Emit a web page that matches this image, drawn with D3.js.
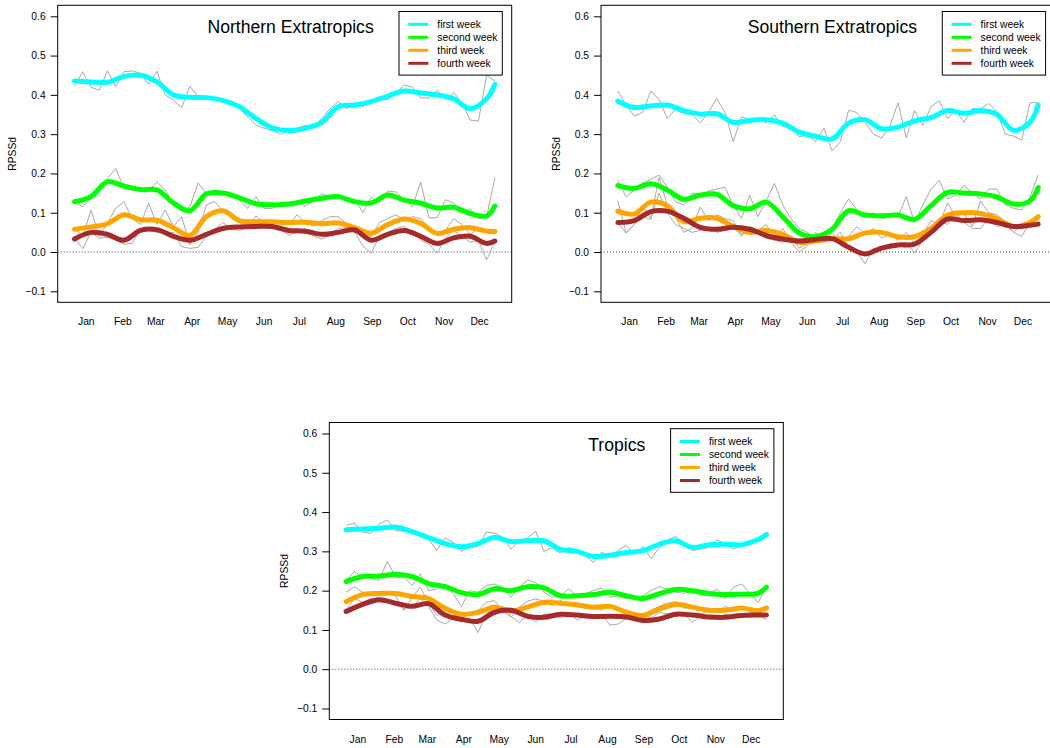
<!DOCTYPE html>
<html>
<head>
<meta charset="utf-8">
<script src="https://cdn.jsdelivr.net/npm/d3@7"></script>
<style>
body { margin: 0; background: #fff; }
svg { display: block; font-family: "Liberation Sans", Arial, sans-serif; }
</style>
</head>
<body>
<svg id="chart" width="1050" height="748"></svg>
<script>
// month labels, placed at mid-month (day of year)
var months = ['Jan','Feb','Mar','Apr','May','Jun','Jul','Aug','Sep','Oct','Nov','Dec'];
var monthDays = [15,46,74,105,135,166,196,227,258,288,319,349];
var yTicks = [-0.1,0.0,0.1,0.2,0.3,0.4,0.5,0.6];

// day of year of every weekly value
var weekDays = [5,12,19,26,33,40,47,54,61,68,75,82,89,96,103,110,117,124,131,138,145,152,159,166,173,180,
                187,194,201,208,215,222,229,236,243,250,257,264,271,278,285,292,299,306,313,320,327,334,341,348,355,362];
// day of year of the smoothed values
var smoothDays = [5,19,33,47,61,75,89,103,117,131,145,159,173,187,201,215,229,243,257,271,285,299,313,327,341,355,362];

var leadNames = ['first week','second week','third week','fourth week'];
var leadColors = ['#00ffff','#00ff00','#ffa500','#a52a2a'];

// ---- Northern Extratropics ----
var nhRaw1 = [0.422,0.459,0.419,0.412,0.461,0.421,0.459,0.461,0.455,0.427,0.46,0.40,0.387,0.368,0.422,0.395,0.393,0.392,0.387,0.378,0.366,0.344,0.323,0.315,0.309,0.30,
              0.308,0.315,0.322,0.318,0.34,0.365,0.383,0.365,0.378,0.37,0.385,0.395,0.387,0.405,0.425,0.42,0.392,0.392,0.412,0.388,0.406,0.38,0.336,0.333,0.45,0.435];
var nhRaw2 = [0.128,0.115,0.137,0.165,0.187,0.213,0.162,0.158,0.158,0.156,0.179,0.158,0.124,0.103,0.115,0.176,0.149,0.158,0.15,0.145,0.132,0.111,0.141,0.111,0.111,0.125,
              0.12,0.125,0.117,0.13,0.148,0.14,0.148,0.13,0.135,0.10,0.14,0.125,0.155,0.153,0.133,0.115,0.178,0.087,0.087,0.133,0.125,0.098,0.11,0.085,0.09,0.189];
var nhRaw3 = [0.06,0.04,0.107,0.04,0.075,0.111,0.128,0.085,0.07,0.124,0.07,0.107,0.065,0.09,0.018,0.05,0.12,0.128,0.105,0.09,0.075,0.06,0.092,0.075,0.08,0.07,
              0.07,0.095,0.075,0.066,0.08,0.09,0.09,0.072,0.05,0.045,0.04,0.075,0.085,0.095,0.08,0.09,0.085,0.06,0.05,0.055,0.085,0.07,0.045,0.06,0.05,0.055];
var nhRaw4 = [0.035,0.009,0.05,0.035,0.038,0.03,0.02,0.022,0.06,0.055,0.05,0.045,0.05,0.014,0.009,0.012,0.04,0.058,0.075,0.06,0.055,0.062,0.06,0.07,0.068,0.058,
              0.043,0.05,0.06,0.04,0.033,0.045,0.06,0.062,0.05,0.015,-0.003,0.04,0.05,0.06,0.065,0.05,0.03,0.02,-0.003,0.035,0.055,0.04,0.025,0.03,-0.02,0.025];
var nhSmooth1 = [0.435,0.433,0.432,0.447,0.45,0.433,0.40,0.394,0.393,0.386,0.37,0.34,0.316,0.309,0.315,0.33,0.37,0.374,0.383,0.397,0.41,0.405,0.40,0.39,0.365,0.39,0.427];
var nhSmooth2 = [0.128,0.141,0.179,0.168,0.159,0.158,0.125,0.105,0.148,0.15,0.138,0.123,0.12,0.122,0.13,0.137,0.141,0.128,0.125,0.145,0.132,0.124,0.112,0.114,0.098,0.092,0.117];
var nhSmooth3 = [0.058,0.064,0.072,0.095,0.082,0.081,0.062,0.042,0.09,0.105,0.08,0.077,0.077,0.075,0.076,0.072,0.074,0.062,0.048,0.07,0.084,0.073,0.047,0.058,0.062,0.053,0.052];
var nhSmooth4 = [0.033,0.05,0.045,0.03,0.055,0.057,0.04,0.03,0.045,0.06,0.064,0.065,0.065,0.055,0.053,0.045,0.05,0.056,0.03,0.045,0.055,0.04,0.022,0.036,0.04,0.022,0.028];

// ---- Southern Extratropics ----
var shRaw1 = [0.41,0.375,0.346,0.355,0.41,0.388,0.34,0.363,0.352,0.35,0.329,0.355,0.391,0.355,0.281,0.344,0.338,0.34,0.329,0.349,0.319,0.323,0.293,0.298,0.281,0.315,
              0.257,0.281,0.361,0.355,0.33,0.30,0.29,0.32,0.38,0.29,0.36,0.322,0.37,0.385,0.34,0.36,0.33,0.365,0.365,0.378,0.358,0.30,0.295,0.285,0.38,0.38];
var shRaw2 = [0.183,0.14,0.158,0.175,0.185,0.196,0.165,0.128,0.12,0.15,0.145,0.155,0.16,0.165,0.12,0.085,0.145,0.09,0.13,0.175,0.12,0.085,0.06,0.05,0.035,0.045,
              0.06,0.1,0.135,0.108,0.088,0.1,0.085,0.09,0.09,0.141,0.075,0.12,0.16,0.183,0.135,0.145,0.17,0.15,0.135,0.16,0.16,0.12,0.111,0.107,0.14,0.196];
var shRaw3 = [0.13,0.05,0.07,0.12,0.085,0.19,0.12,0.09,0.05,0.06,0.115,0.08,0.095,0.085,0.08,0.04,0.065,0.055,0.07,0.035,0.06,0.025,0.0,0.015,0.05,0.03,
              0.048,0.025,0.04,0.065,0.045,0.06,0.035,0.045,0.03,0.05,0.02,0.045,0.08,0.07,0.125,0.09,0.1,0.065,0.13,0.1,0.095,0.075,0.05,0.07,0.065,0.095];
var shRaw4 = [0.075,0.048,0.07,0.09,0.083,0.15,0.1,0.07,0.06,0.05,0.055,0.065,0.05,0.055,0.06,0.045,0.06,0.05,0.035,0.03,0.025,0.04,0.01,0.02,0.04,0.035,
              0.03,0.05,0.01,0.0,-0.03,0.01,0.005,0.02,0.02,0.025,-0.003,0.03,0.065,0.08,0.07,0.1,0.075,0.06,0.06,0.085,0.065,0.07,0.05,0.04,0.075,0.07];
var shSmooth1 = [0.384,0.368,0.372,0.374,0.36,0.351,0.352,0.33,0.335,0.337,0.328,0.305,0.295,0.288,0.328,0.337,0.314,0.318,0.334,0.342,0.36,0.353,0.36,0.35,0.31,0.33,0.374];
var shSmooth2 = [0.169,0.162,0.174,0.158,0.134,0.145,0.147,0.118,0.11,0.127,0.09,0.049,0.039,0.058,0.105,0.094,0.092,0.094,0.083,0.118,0.152,0.15,0.148,0.14,0.122,0.13,0.164];
var shSmooth3 = [0.104,0.097,0.127,0.118,0.077,0.086,0.086,0.065,0.05,0.055,0.045,0.025,0.028,0.034,0.034,0.048,0.05,0.039,0.039,0.06,0.094,0.1,0.098,0.085,0.065,0.075,0.09];
var shSmooth4 = [0.075,0.08,0.103,0.104,0.086,0.063,0.058,0.063,0.058,0.042,0.033,0.028,0.032,0.034,0.012,-0.005,0.01,0.018,0.02,0.05,0.084,0.08,0.082,0.075,0.065,0.068,0.071];

// ---- Tropics ----
var trRaw1 = [0.366,0.372,0.349,0.346,0.37,0.38,0.353,0.351,0.355,0.344,0.332,0.302,0.334,0.323,0.30,0.31,0.312,0.349,0.346,0.336,0.306,0.327,0.334,0.351,0.30,0.309,
              0.295,0.31,0.302,0.289,0.272,0.298,0.285,0.302,0.315,0.292,0.313,0.281,0.31,0.329,0.338,0.319,0.302,0.306,0.31,0.329,0.319,0.306,0.315,0.327,0.334,0.336];
var trRaw2 = [0.226,0.249,0.234,0.232,0.226,0.275,0.234,0.234,0.213,0.243,0.20,0.204,0.217,0.192,0.16,0.20,0.196,0.213,0.217,0.207,0.183,0.209,0.227,0.221,0.196,0.183,
              0.187,0.204,0.187,0.192,0.20,0.207,0.183,0.187,0.179,0.183,0.187,0.20,0.21,0.204,0.196,0.193,0.20,0.187,0.192,0.204,0.179,0.209,0.217,0.192,0.17,0.21];
var trRaw3 = [0.196,0.21,0.196,0.193,0.196,0.196,0.187,0.149,0.182,0.209,0.17,0.137,0.149,0.149,0.141,0.137,0.149,0.17,0.175,0.148,0.132,0.158,0.173,0.179,0.173,0.162,
              0.175,0.165,0.16,0.155,0.16,0.15,0.165,0.155,0.133,0.14,0.13,0.15,0.16,0.168,0.172,0.155,0.16,0.14,0.15,0.145,0.16,0.15,0.16,0.145,0.145,0.16];
var trRaw4 = [0.15,0.18,0.17,0.18,0.172,0.17,0.165,0.155,0.158,0.18,0.16,0.125,0.115,0.13,0.12,0.13,0.093,0.14,0.16,0.16,0.135,0.118,0.138,0.12,0.14,0.14,
              0.13,0.145,0.125,0.135,0.128,0.14,0.112,0.115,0.13,0.125,0.14,0.13,0.145,0.14,0.135,0.14,0.12,0.135,0.128,0.13,0.14,0.135,0.14,0.135,0.14,0.125];
var trSmooth1 = [0.355,0.357,0.359,0.362,0.35,0.335,0.32,0.312,0.32,0.335,0.325,0.327,0.327,0.305,0.30,0.287,0.29,0.297,0.302,0.318,0.327,0.31,0.317,0.318,0.317,0.33,0.343];
var trSmooth2 = [0.223,0.236,0.237,0.242,0.236,0.218,0.21,0.195,0.19,0.205,0.20,0.21,0.207,0.187,0.187,0.19,0.196,0.187,0.18,0.192,0.203,0.20,0.193,0.19,0.191,0.193,0.209];
var trSmooth3 = [0.172,0.19,0.193,0.193,0.185,0.18,0.155,0.14,0.145,0.158,0.148,0.158,0.17,0.168,0.164,0.158,0.16,0.145,0.137,0.153,0.165,0.158,0.15,0.15,0.156,0.149,0.156];
var trSmooth4 = [0.147,0.165,0.177,0.168,0.16,0.167,0.138,0.127,0.122,0.145,0.15,0.135,0.132,0.14,0.138,0.134,0.135,0.133,0.124,0.128,0.14,0.138,0.133,0.132,0.137,0.138,0.138];

var panels = [
  { title: 'Northern Extratropics', left: 57.7,  top: 5.3,   raw: [nhRaw1,nhRaw2,nhRaw3,nhRaw4], smooth: [nhSmooth1,nhSmooth2,nhSmooth3,nhSmooth4] },
  { title: 'Southern Extratropics', left: 601,   top: 5.3,   raw: [shRaw1,shRaw2,shRaw3,shRaw4], smooth: [shSmooth1,shSmooth2,shSmooth3,shSmooth4] },
  { title: 'Tropics',               left: 329.3, top: 422.5, raw: [trRaw1,trRaw2,trRaw3,trRaw4], smooth: [trSmooth1,trSmooth2,trSmooth3,trSmooth4] }
];

var W = 454, H = 297, FS = 10.3;
var svg = d3.select('#chart');
svg.append('rect').attr('width', 1050).attr('height', 748).attr('fill', '#fff');

// R style 4% padding of the data range
var xExt = d3.extent(weekDays), xPad = (xExt[1] - xExt[0]) * 0.04;
var yLim = [-0.1, 0.6], yPad = (yLim[1] - yLim[0]) * 0.04;

function drawPanel(p) {
  var g = svg.append('g');
  var x = d3.scaleLinear().domain([xExt[0] - xPad, xExt[1] + xPad]).range([p.left, p.left + W]);
  var y = d3.scaleLinear().domain([yLim[0] - yPad, yLim[1] + yPad]).range([p.top + H, p.top]);

  // zero reference
  g.append('line')
    .attr('x1', p.left).attr('x2', p.left + W)
    .attr('y1', y(0)).attr('y2', y(0))
    .attr('stroke', '#444').attr('stroke-width', 1).attr('stroke-dasharray', '1,2');

  var rawLine = d3.line().x(function(d, i){ return x(weekDays[i]); }).y(function(d){ return y(d); });
  var smLine = d3.line().x(function(d, i){ return x(smoothDays[i]); }).y(function(d){ return y(d); })
    .curve(d3.curveCatmullRom);

  p.raw.forEach(function(s) {
    g.append('path').attr('d', rawLine(s)).attr('fill', 'none')
      .attr('stroke', '#a8a8a8').attr('stroke-width', 1);
  });
  p.smooth.forEach(function(s, k) {
    g.append('path').attr('d', smLine(s)).attr('fill', 'none')
      .attr('stroke', leadColors[k]).attr('stroke-width', 5)
      .attr('stroke-linecap', 'round').attr('stroke-linejoin', 'round');
  });

  // box
  g.append('rect').attr('x', p.left).attr('y', p.top).attr('width', W).attr('height', H)
    .attr('fill', 'none').attr('stroke', '#000').attr('stroke-width', 1);

  // y axis
  var ya = g.append('g').attr('transform', 'translate(' + p.left + ',0)')
    .call(d3.axisLeft(y).tickValues(yTicks).tickSize(7).tickPadding(5).tickFormat(d3.format('.1f')));
  ya.select('.domain').remove();
  ya.selectAll('text').attr('font-size', FS).attr('font-family', '"Liberation Sans", Arial, sans-serif').attr('fill', '#000');
  ya.selectAll('line').attr('stroke', '#000');

  g.append('text')
    .attr('transform', 'translate(' + (p.left - 45) + ',' + (p.top + H / 2) + ') rotate(-90)')
    .attr('text-anchor', 'middle').attr('dy', '0.35em').attr('font-size', FS).text('RPSSd');

  // month labels
  g.selectAll('.mon').data(months).enter().append('text')
    .attr('x', function(d, i){ return x(monthDays[i]); })
    .attr('y', p.top + H + 23)
    .attr('text-anchor', 'middle').attr('font-size', FS).text(function(d){ return d; });

  // title
  g.append('text').attr('x', p.left + 316).attr('y', p.top + 28)
    .attr('text-anchor', 'end').attr('font-size', 17.6).text(p.title);

  // legend
  var lx = p.left + 341.3, ly = p.top + 6.2;
  g.append('rect').attr('x', lx).attr('y', ly).attr('width', 103.3).attr('height', 63.6)
    .attr('fill', '#fff').attr('stroke', '#000').attr('stroke-width', 1);
  leadNames.forEach(function(name, k) {
    var ry = ly + 12.8 + k * 13;
    g.append('line').attr('x1', lx + 9.3).attr('x2', lx + 29.3).attr('y1', ry).attr('y2', ry)
      .attr('stroke', leadColors[k]).attr('stroke-width', 3);
    g.append('text').attr('x', lx + 38.3).attr('y', ry).attr('dy', '0.35em')
      .attr('font-size', FS).text(name);
  });
}

panels.forEach(drawPanel);
</script>
</body>
</html>
